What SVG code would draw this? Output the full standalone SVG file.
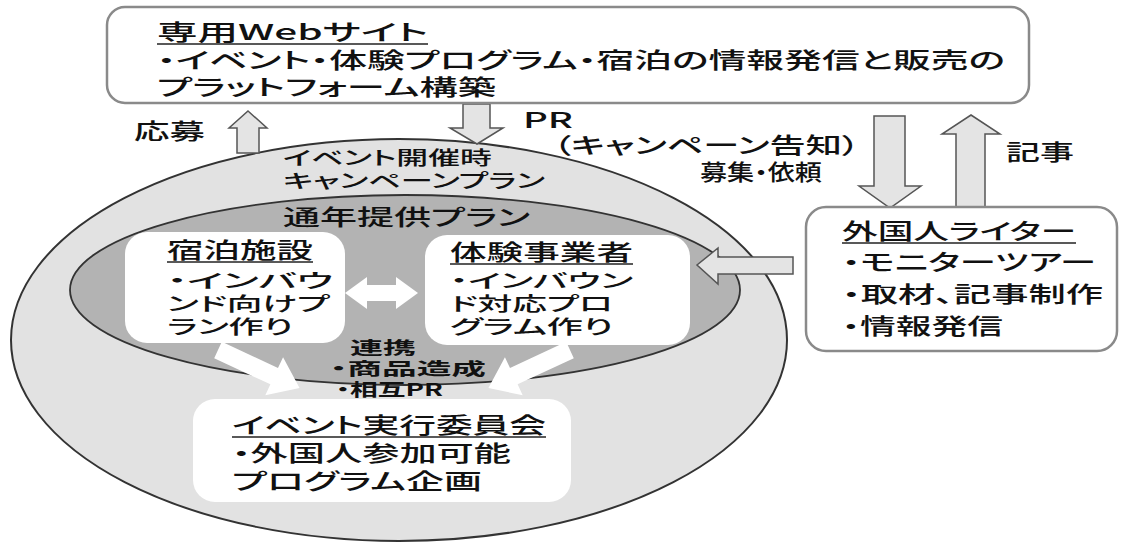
<svg xmlns="http://www.w3.org/2000/svg" width="1121" height="542" viewBox="0 0 1121 542">
<style>
.t{font-family:"Noto Sans CJK JP","Noto Sans CJK SC",sans-serif;font-size:22px;fill:#111;font-weight:500;font-feature-settings:"palt";}
.s{font-size:19px;}
.m{font-size:19px;}
.b{font-weight:bold;font-size:17px;}
.ha{fill:#e4e4e4;stroke:#555;stroke-width:1.5;stroke-linejoin:miter;}
.wa{fill:#ffffff;stroke:none;}
.ul{stroke:#222;stroke-width:1.6;}
.box{fill:#ffffff;stroke:#8a8a8a;stroke-width:2.5;}
.ibox{fill:#ffffff;stroke:none;}
</style>
<rect x="0" y="0" width="1121" height="542" fill="#ffffff"/>

<g id="outer-ellipse">
<ellipse cx="399" cy="340" rx="388" ry="201" fill="#e2e2e2" stroke="#333" stroke-width="2"/>
<text class="t m" x="283" y="165" textLength="209" lengthAdjust="spacingAndGlyphs">イベント開催時</text>
<text class="t m" x="283" y="188" textLength="262" lengthAdjust="spacingAndGlyphs">キャンペーンプラン</text>
</g>

<g id="inner-ellipse">
<ellipse cx="405" cy="290" rx="335" ry="95" fill="#b3b3b3" stroke="#333" stroke-width="1.8"/>
<text class="t" font-weight="bold" x="283" y="225" textLength="247" lengthAdjust="spacingAndGlyphs">通年提供プラン</text>
</g>

<g id="connectors">
<polygon class="ha" points="248,111 267,128 259,128 259,153 237,153 237,128 229,128"/>
<polygon class="ha" points="463,104 490,104 490,128 503,128 477,144 450,128 463,128"/>
<polygon class="ha" points="874,116 905,116 905,186 921,186 890,208 859,186 874,186"/>
<polygon class="ha" points="971,115 1000,134 985,134 985,207 956,207 956,134 942,134"/>
<polygon class="ha" points="793,257 793,274 718,274 718,284 697,265 718,248 718,257"/>
<polygon class="wa" points="345,293 367,277 367,285 396,285 396,277 418,293 396,309 396,301 367,301 367,309"/>
<polygon class="wa" transform="translate(218,350) rotate(25)" points="0,-9 62,-9 62,-21 90,0 62,21 62,9 0,9"/>
<polygon class="wa" transform="translate(570,350) rotate(155)" points="0,-9 62,-9 62,-21 90,0 62,21 62,9 0,9"/>
</g>

<g id="labels">
<text class="t" x="134" y="139" textLength="71" lengthAdjust="spacingAndGlyphs">応募</text>
<text class="t" x="523" y="128" textLength="50" lengthAdjust="spacingAndGlyphs">PR</text>
<text class="t" x="553" y="153" textLength="307" lengthAdjust="spacingAndGlyphs">（キャンペーン告知）</text>
<text class="t" x="700" y="180" textLength="122" lengthAdjust="spacingAndGlyphs">募集・依頼</text>
<text class="t" x="1006" y="160" textLength="68" lengthAdjust="spacingAndGlyphs">記事</text>
<text class="t b" x="350" y="354" textLength="66" lengthAdjust="spacingAndGlyphs">連携</text>
<text class="t b" x="330" y="375" textLength="156" lengthAdjust="spacingAndGlyphs">・商品造成</text>
<text class="t b" x="336" y="396" textLength="107" lengthAdjust="spacingAndGlyphs">・相互PR</text>
</g>

<g id="web-site">
<rect class="box" x="107" y="7" width="922" height="96" rx="18"/>
<text class="t" x="157" y="40" textLength="271" lengthAdjust="spacingAndGlyphs">専用Webサイト</text>
<line class="ul" x1="157" y1="44" x2="428" y2="44"/>
<text class="t" x="157" y="68" textLength="848" lengthAdjust="spacingAndGlyphs">・イベント・体験プログラム・宿泊の情報発信と販売の</text>
<text class="t" x="157" y="95" textLength="339" lengthAdjust="spacingAndGlyphs">プラットフォーム構築</text>
</g>

<g id="lodging">
<rect class="ibox" x="125" y="232" width="220" height="111" rx="22"/>
<text class="t" x="167" y="258" textLength="146" lengthAdjust="spacingAndGlyphs">宿泊施設</text>
<line class="ul" x1="167" y1="262" x2="313" y2="262"/>
<text class="t s" x="167" y="288" textLength="166" lengthAdjust="spacingAndGlyphs">・インバウ</text>
<text class="t s" x="167" y="311" textLength="163" lengthAdjust="spacingAndGlyphs">ンド向けプ</text>
<text class="t s" x="167" y="334" textLength="126" lengthAdjust="spacingAndGlyphs">ラン作り</text>
</g>

<g id="experience">
<rect class="ibox" x="425" y="235" width="265" height="110" rx="22"/>
<text class="t" x="450" y="260" textLength="183" lengthAdjust="spacingAndGlyphs">体験事業者</text>
<line class="ul" x1="450" y1="264" x2="633" y2="264"/>
<text class="t s" x="450" y="288" textLength="183" lengthAdjust="spacingAndGlyphs">・インバウン</text>
<text class="t s" x="450" y="311" textLength="163" lengthAdjust="spacingAndGlyphs">ド対応プロ</text>
<text class="t s" x="450" y="334" textLength="163" lengthAdjust="spacingAndGlyphs">グラム作り</text>
</g>

<g id="committee">
<rect class="ibox" x="193" y="399" width="378" height="103" rx="22"/>
<text class="t" x="232" y="433" textLength="314" lengthAdjust="spacingAndGlyphs">イベント実行委員会</text>
<line class="ul" x1="232" y1="437" x2="546" y2="437"/>
<text class="t" x="232" y="461" textLength="279" lengthAdjust="spacingAndGlyphs">・外国人参加可能</text>
<text class="t" x="232" y="489" textLength="250" lengthAdjust="spacingAndGlyphs">プログラム企画</text>
</g>

<g id="writer">
<rect class="box" x="806" y="207" width="311" height="144" rx="20"/>
<text class="t" x="842" y="239" textLength="234" lengthAdjust="spacingAndGlyphs">外国人ライター</text>
<line class="ul" x1="842" y1="243" x2="1076" y2="243"/>
<text class="t" x="842" y="270" textLength="254" lengthAdjust="spacingAndGlyphs">・モニターツアー</text>
<text class="t" x="842" y="302" textLength="261" lengthAdjust="spacingAndGlyphs">・取材、記事制作</text>
<text class="t" x="842" y="334" textLength="161" lengthAdjust="spacingAndGlyphs">・情報発信</text>
</g>
</svg>
